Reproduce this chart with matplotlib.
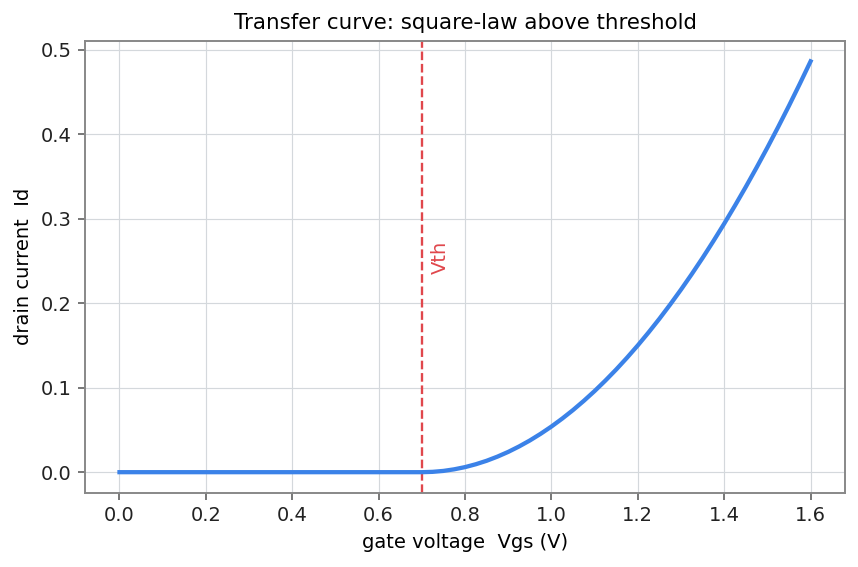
import matplotlib
matplotlib.use("Agg")
import matplotlib.pyplot as plt

vgs = [0.0, 0.1, 0.2, 0.3, 0.4, 0.5, 0.6, 0.7, 0.725, 0.75, 0.775, 0.8, 0.825,
       0.85, 0.875, 0.9, 0.925, 0.95, 0.975, 1.0, 1.025, 1.05, 1.075, 1.1,
       1.125, 1.15, 1.175, 1.2, 1.225, 1.25, 1.275, 1.3, 1.325, 1.35, 1.375,
       1.4, 1.425, 1.45, 1.475, 1.5, 1.525, 1.55, 1.575, 1.6]
id_vals = [0.0, 0.0, 0.0, 0.0, 0.0, 0.0, 0.0, 0.0, 0.0004, 0.0015, 0.0034,
           0.006, 0.0094, 0.0135, 0.0184, 0.024, 0.0304, 0.0375, 0.0454,
           0.054, 0.0634, 0.0735, 0.0844, 0.096, 0.1084, 0.1215, 0.1354,
           0.150, 0.1654, 0.1815, 0.1984, 0.216, 0.2344, 0.2535, 0.2734,
           0.294, 0.3154, 0.3375, 0.3604, 0.384, 0.4084, 0.4335, 0.4594, 0.486]
vth = 0.7

fig, ax = plt.subplots(figsize=(858 / 140, 567 / 140), dpi=140)
fig.subplots_adjust(left=0.099, right=0.985, top=0.928, bottom=0.131)
ax.plot(vgs, id_vals, color="#3b82e8", lw=2.2, zorder=3)
ax.axvline(vth, color="#e0474c", ls="--", lw=1.2, zorder=2)
ax.text(vth + 0.02, 0.235, "Vth", rotation=90, color="#e0474c", fontsize=10,
        ha="left", va="bottom")

ax.set_title("Transfer curve: square-law above threshold", fontsize=11)
ax.set_xlabel("gate voltage  Vgs (V)", fontsize=10)
ax.set_ylabel("drain current  Id", fontsize=10)
ax.set_xticks([0.0, 0.2, 0.4, 0.6, 0.8, 1.0, 1.2, 1.4, 1.6])
ax.set_yticks([0.0, 0.1, 0.2, 0.3, 0.4, 0.5])
ax.tick_params(labelsize=10, colors="#222222")
ax.tick_params(axis="both", color="#555555")
ax.grid(True, color="#d4d8dc", lw=0.6)
ax.set_axisbelow(True)
for s in ax.spines.values():
    s.set_color("#888888")
    s.set_linewidth(1.0)

fig.savefig("out.png", dpi=140)
